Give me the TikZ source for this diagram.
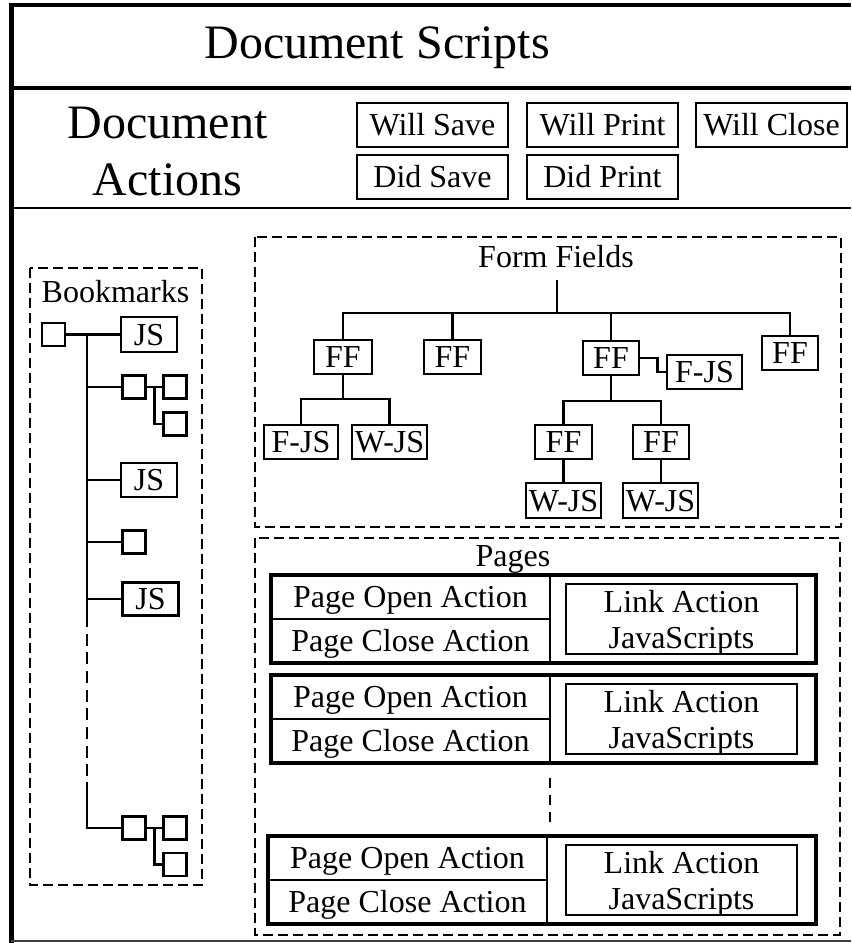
\documentclass[tikz,border=0pt]{standalone}
\usepackage{fontspec}
\setmainfont{Liberation Serif}
\usetikzlibrary{calc}
\begin{document}
\begin{tikzpicture}[x=0.75pt,y=-0.75pt]
\tikzset{
  big/.style={font=\fontsize{36}{40}\selectfont},
  mid/.style={font=\fontsize{24}{28}\selectfont},
  lab/.style={mid, inner sep=0pt, anchor=base},
  biglab/.style={big, inner sep=0pt, anchor=base},
  sz/.style 2 args={minimum width=(#1)*0.75pt, minimum height=(#2)*0.75pt},
  bx/.style={draw, line width=2.1pt, inner sep=0pt, mid, text height=15.9pt, text depth=0pt},
  cell/.style={draw, line width=1.7pt, inner sep=0pt, mid, text height=15.9pt, text depth=0pt},
  sq/.style={draw, line width=2.1pt, inner sep=0pt, minimum size=17.25pt},
  wire/.style={line width=2.1pt},
  dbox/.style={draw, line width=2pt, dash pattern=on 7.5pt off 3.75pt},
  pbox/.style={draw, line width=2.6pt},
}
\fill[white] (0,0) rectangle (851,943);
\useasboundingbox (0,0) rectangle (851,943);

% frame
\draw[line width=3.6pt] (9,5) -- (851,5);
\draw[line width=3.8pt] (11.5,3) -- (11.5,943);
\draw[line width=3pt] (11,88) -- (851,88);
\draw[line width=1.9pt] (11,208) -- (851,208);
\draw[line width=1.6pt, black!75] (11,941) -- (851,941);

% titles
\node[biglab] (title) at (377,58) {Document Scripts};
\node[biglab] (docA) at (167.5,138) {Document};
\node[biglab] (docB) at (167.5,195) {Actions};

% document action buttons
\node[bx, sz={151}{44}] (wsave) at (432.5,125) {Will Save};
\node[bx, sz={151}{44}] (wprint) at (602.5,125) {Will Print};
\node[bx, sz={151}{44}] (wclose) at (771.5,125) {Will Close};
\node[bx, sz={151}{44}] (dsave) at (432.5,177) {Did Save};
\node[bx, sz={151}{44}] (dprint) at (602.5,177) {Did Print};

% Bookmarks
\draw[dbox] (30,268) rectangle (202,885);
\node[lab] (bmlab) at (115.5,302) {Bookmarks};
\node[sq] (bm0) at (53.5,334.5) {};
\node[bx, sz={56}{35}] (js1) at (149,334.5) {JS};
\draw[wire] (bm0) -- (js1);
\coordinate (t0) at (87,334.5);
\coordinate (t1) at (87,627);
\coordinate (t2) at (87,782);
\node[sq] (bm1) at (134,387) {};
\node[sq] (bm1a) at (175,387) {};
\node[sq] (bm1b) at (175,424) {};
\node[bx, sz={56}{34}] (js2) at (149,480) {JS};
\node[sq] (bm2) at (134,542) {};
\node[bx, sz={56}{33}] (js3) at (150.5,599) {JS};
\node[sq] (bm4) at (134,828) {};
\node[sq] (bm4a) at (175,828) {};
\node[sq] (bm4b) at (175,864.5) {};
\draw[wire] (t0) -- (t1);
\draw[wire, dash pattern=on 9pt off 5pt, dash phase=9pt] (t1) -- (t2);
\draw[wire] (t2) |- (bm4.west);
\draw[wire] (t0 |- bm1) -- (bm1.west);
\draw[wire] (t0 |- js2) -- (js2.west);
\draw[wire] (t0 |- bm2) -- (bm2.west);
\draw[wire] (t0 |- js3) -- (js3.west);
\draw[wire] (bm1.east) -- (bm1a.west);
\draw[wire] ($(bm1.east)!0.5!(bm1a.west)$) |- (bm1b.west);
\draw[wire] (bm4.east) -- (bm4a.west);
\draw[wire] ($(bm4.east)!0.5!(bm4a.west)$) |- (bm4b.west);

% Form Fields
\draw[dbox] (255,237) rectangle (841,527);
\node[lab] (fflab) at (556,267) {Form Fields};
\coordinate (fftop) at (557,280);
\coordinate (bus) at (557,313);
\node[bx, sz={58}{34}] (ff1) at (343,357) {FF};
\node[bx, sz={57}{34}] (ff2) at (452.5,357) {FF};
\node[bx, sz={56}{34}] (ff3) at (611,358) {FF};
\node[bx, sz={56}{34}] (ff4) at (790,353) {FF};
\node[bx, sz={75}{34}] (fjs2) at (704.5,372) {F-JS};
\node[bx, sz={74}{34}] (fjs1) at (301,442) {F-JS};
\node[bx, sz={75}{34}] (wjs1) at (389.5,442) {W-JS};
\node[bx, sz={57}{34}] (ff5) at (563.5,442) {FF};
\node[bx, sz={56}{34}] (ff6) at (661,442) {FF};
\node[bx, sz={75}{35}] (wjs5) at (563.5,500.5) {W-JS};
\node[bx, sz={75}{35}] (wjs6) at (660.5,500.5) {W-JS};
\draw[wire] (fftop) -- (bus);
\draw[wire] (ff1.north) |- (bus) -| (ff4.north);
\draw[wire] (ff2.north) -- (ff2.north |- bus);
\draw[wire] (ff3.north) -- (ff3.north |- bus);
\draw[wire] (ff3.east) -- ++(17,0) |- (fjs2.west);
\coordinate (b1) at (343,399);
\draw[wire] (ff1.south) -- (b1);
\draw[wire] (fjs1.north) |- (b1) -| (wjs1.north);
\coordinate (b3) at (611,401);
\draw[wire] (ff3.south) -- (b3);
\draw[wire] (ff5.north) |- (b3) -| (ff6.north);
\draw[wire] (ff5.south) -- (wjs5.north);
\draw[wire] (ff6.south) -- (ff6.south |- wjs6.north);

% Pages
\draw[dbox] (255,538) rectangle (840,935);
\node[lab] (pglab) at (513,566) {Pages};
\foreach \o/\l/\d/\i in {0/271/550/1, 100/271/550/2, 261/268/547/3} {
  \node[cell, sz={\d-\l}{44}] (open\i) at ({(\l+\d)/2},597+\o) {Page Open Action};
  \node[cell, sz={\d-\l}{44}] (close\i) at ({(\l+\d)/2},641+\o) {Page Close Action};
  \draw[pbox] (\l,575+\o) rectangle (816,663+\o);
  \node[draw, line width=2.1pt, inner sep=0pt, sz={231}{70}] (link\i) at (681.5,619+\o) {};
  \node[lab] (la\i) at (681.5,612+\o) {Link Action};
  \node[lab] (lj\i) at (681.5,648+\o) {JavaScripts};
}
\coordinate (d0) at (550,778);
\coordinate (d1) at (550,822);
\draw[line width=2pt, dash pattern=on 7.5pt off 5.25pt] (d0) -- (d1);
\end{tikzpicture}
\end{document}
